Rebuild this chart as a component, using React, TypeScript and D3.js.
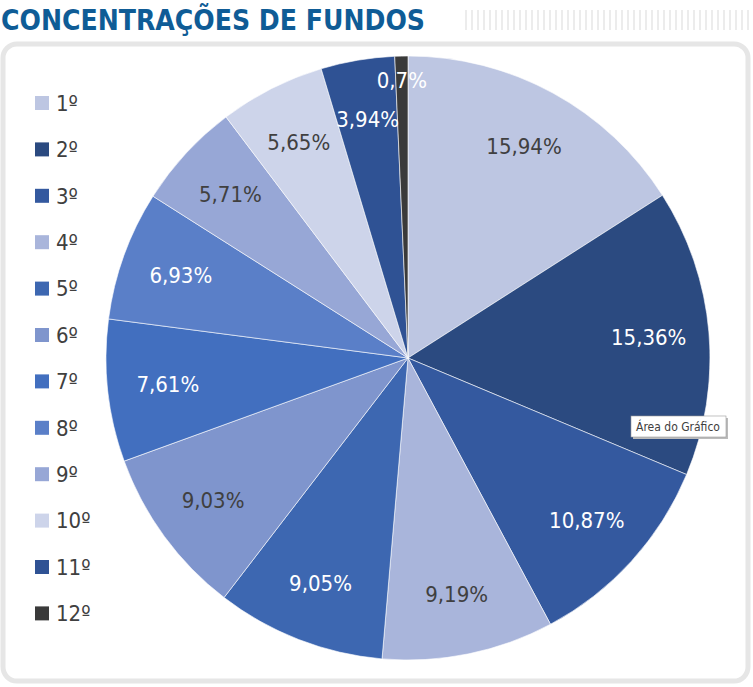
import React, { useEffect, useRef } from 'react';
import * as d3 from 'd3';

const categories = ['1º', '2º', '3º', '4º', '5º', '6º', '7º', '8º', '9º', '10º', '11º', '12º'];
const values = [15.94, 15.36, 10.87, 9.19, 9.05, 9.03, 7.61, 6.93, 5.71, 5.65, 3.94, 0.7];
const labels = ['15,94%', '15,36%', '10,87%', '9,19%', '9,05%', '9,03%', '7,61%', '6,93%', '5,71%', '5,65%', '3,94%', '0,7%'];
const colors = ['#BDC6E2', '#2B4A80', '#34599F', '#A9B5DB', '#3D67B1', '#7F95CD', '#426FBF', '#5A7FC8', '#97A7D6', '#CDD4EA', '#2F5294', '#3A3A3A'];
const darkText = [true, false, false, true, false, true, false, false, true, true, false, false];

const font = '"Liberation Sans Narrow", "DejaVu Sans Condensed", "Open Sans", sans-serif';

const App: React.FC = () => {
  const ref = useRef<SVGSVGElement>(null);

  useEffect(() => {
    if (!ref.current) return;
    const svg = d3.select(ref.current);
    svg.selectAll('*').remove();

    // stripes
    const stripes = d3.range(465, 753, 6);
    svg.append('g').selectAll('rect').data(stripes).enter().append('rect')
      .attr('x', d => d).attr('y', 10).attr('width', 2).attr('height', 20).attr('fill', '#ECECEC');

    svg.append('text').attr('x', 1).attr('y', 30)
      .style('font-family', font).style('font-weight', 'bold').style('font-size', '28px')
      .attr('fill', '#0F5C96').text('CONCENTRAÇÕES DE FUNDOS');

    svg.append('rect').attr('x', 3).attr('y', 44).attr('width', 745).attr('height', 637).attr('rx', 14)
      .attr('fill', '#fff').attr('stroke', '#E6E6E6').attr('stroke-width', 5);

    const cx = 408, cy = 358, r = 302;
    const pie = d3.pie<number>().sort(null).value(d => d);
    const arcs = pie(values);
    const arc = d3.arc<d3.PieArcDatum<number>>().innerRadius(0).outerRadius(r);
    const g = svg.append('g').attr('transform', `translate(${cx},${cy})`);
    g.selectAll('path').data(arcs).enter().append('path')
      .attr('d', arc).attr('fill', (_, i) => colors[i]).attr('stroke', '#fff').attr('stroke-width', 0.6);

    g.selectAll('text.lbl').data(arcs).enter().append('text')
      .attr('class', 'lbl')
      .attr('transform', (d, i) => {
        const k = i === 11 ? 0.92 : 0.8;
        const la = d3.arc<d3.PieArcDatum<number>>().innerRadius(r * k).outerRadius(r * k);
        const [x, y] = la.centroid(d);
        return `translate(${x},${y})`;
      })
      .attr('text-anchor', 'middle').attr('dy', '0.35em')
      .style('font-family', font).style('font-size', '22px')
      .attr('fill', (_, i) => darkText[i] ? '#404040' : '#fff')
      .text((_, i) => labels[i]);

    // legend
    const leg = svg.append('g');
    categories.forEach((c, i) => {
      const y = 103 + i * 46.4;
      leg.append('rect').attr('x', 35).attr('y', y - 7).attr('width', 14).attr('height', 14).attr('fill', colors[i]);
      leg.append('text').attr('x', 56).attr('y', y).attr('dy', '0.35em')
        .style('font-family', font).style('font-size', '22px').attr('fill', '#404040').text(c);
    });

    // tooltip
    svg.append('rect').attr('x', 633).attr('y', 418).attr('width', 95).attr('height', 21).attr('fill', '#BBB');
    svg.append('rect').attr('x', 631).attr('y', 416).attr('width', 95).attr('height', 21)
      .attr('fill', '#fff').attr('stroke', '#999').attr('stroke-width', 0.6);
    svg.append('text').attr('x', 678).attr('y', 427).attr('dy', '0.35em').attr('text-anchor', 'middle')
      .style('font-family', font).style('font-size', '12px').attr('fill', '#404040').text('Área do Gráfico');
  }, []);

  return (
    <svg ref={ref} width={753} height={687} style={{ position: 'absolute', left: 0, top: 0 }} />
  );
};

export default App;
